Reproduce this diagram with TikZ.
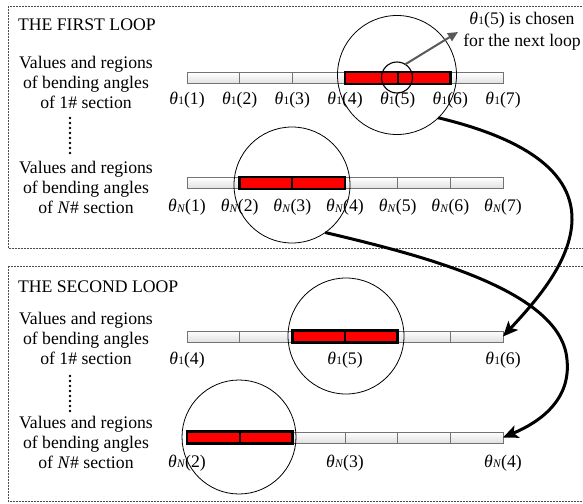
\documentclass[tikz,border=0pt]{standalone}
\usepackage{fontspec}
\setmainfont{Liberation Serif}
\usetikzlibrary{arrows.meta}
\newcommand\thOne[1]{\textit{θ}\kern0.2pt\raisebox{-0.6pt}{\fontsize{11.5}{11.5}\selectfont 1}(#1)}
\newcommand\thEn[1]{\textit{θ}\kern0.2pt\raisebox{-0.6pt}{\fontsize{11.5}{11.5}\selectfont\textit{N}}(#1)}
\begin{document}
\begin{tikzpicture}[x=1pt,y=-1pt,
  every node/.style={font=\fontsize{17.7}{19.8}\selectfont, inner sep=0pt, outer sep=0pt},
  loopbox/.style={draw=black!70, dash pattern=on 2pt off 1pt, line width=0.8pt},
  bar/.style={rectangle, draw=black!55, top color=white, bottom color=black!12, line width=0.8pt,
              minimum width=316pt, minimum height=11pt, anchor=west},
  divider/.style={draw=black!55, line width=0.8pt},
  redbox/.style={rectangle, fill=red, draw=black, line width=2.6pt,
                 minimum width=105.3pt, minimum height=12pt, anchor=west},
  reddiv/.style={draw=black, line width=2pt},
  zoomcirc/.style={circle, draw=black, line width=0.8pt, minimum size=#1, inner sep=0pt},
  bigarrow/.style={draw=black, line width=3pt, -{Stealth[length=15pt, width=13pt, inset=3.5pt]}},
  notearrow/.style={draw=black!65, line width=2pt, -{Triangle[length=10pt, width=9pt]}},
  block/.style={align=center}
]
\useasboundingbox (0,0) rectangle (583,503);
\clip (0,0) rectangle (583,503);

% loop frames
\draw[loopbox] (8,6) rectangle (600,248.5);
\draw[loopbox] (8,266) rectangle (600,501.5);

% titles
\node[anchor=west] (title1) at (18,25) {THE FIRST LOOP};
\node[anchor=west] (title2) at (18,287) {THE SECOND LOOP};

% left text blocks
\node[block] (txtA) at (86,82.5) {Values and regions\\of bending angles\\of 1\# section};
\node[block] (txtB) at (86,187.5) {Values and regions\\of bending angles\\of \textit{N}\# section};
\node[block] (txtC) at (86,338.5) {Values and regions\\of bending angles\\of 1\# section};
\node[block] (txtD) at (86,442.5) {Values and regions\\of bending angles\\of \textit{N}\# section};

% vertical dots
\foreach \y in {118,123,...,153} \fill (70,\y) circle (1.3);
\foreach \y in {376,381,...,411} \fill (70,\y) circle (1.3);

% bars
\node[bar] (barA) at (187,78) {};
\node[bar] (barB) at (187,183) {};
\node[bar] (barC) at (187,336.5) {};
\node[bar] (barD) at (187,437.5) {};
\foreach \b in {barA,barB,barC,barD}{
  \foreach \i in {1,...,5}
    \draw[divider] ([xshift=\i*52.667pt]\b.north west) -- ([xshift=\i*52.667pt]\b.south west);
}

% red selected regions
\node[redbox] (redA) at (344.9,78) {};
\node[redbox] (redB) at (239.7,183) {};
\node[redbox] (redC) at (292.3,336.5) {};
\node[redbox] (redD) at (187,437.5) {};
\foreach \r in {redA,redB,redC,redD}
  \draw[reddiv] (\r.north) -- (\r.south);

% labels, first loop
\foreach \i in {1,...,7}{
  \node (lA\i) at ({187+(\i-1)*52.667},100) {\thOne{\i}};
  \node (lB\i) at ({187+(\i-1)*52.667},207.5) {\thEn{\i}};
}
% labels, second loop
\node (lC4) at (187,360) {\thOne{4}};
\node (lC5) at (345,360) {\thOne{5}};
\node (lC6) at (503,360) {\thOne{6}};
\node (lD2) at (187,463) {\thEn{2}};
\node (lD3) at (345,463) {\thEn{3}};
\node (lD4) at (503,463) {\thEn{4}};

% zoom circles
\node[zoomcirc=119pt] (cA) at (397,75) {};
\node[zoomcirc=116pt] (cB) at (292,185) {};
\node[zoomcirc=116pt] (cC) at (346,336) {};
\node[zoomcirc=114pt] (cD) at (239,437) {};
\node[circle, draw=black, line width=1.1pt, minimum size=31pt] (small) at (397,77.5) {};

% note
\node[align=center] (note) at (522,31) {\thOne{5} is chosen\\[2.5pt]for the next loop};
\coordinate (notetip) at (458,32);
\draw[notearrow] (small.58) -- (notetip);

% big arrows
\draw[bigarrow] (cA.-46) .. controls (510,135) and (573,165) .. (572,220)
                .. controls (571,262) and (535,302) .. (barC.east);
\draw[bigarrow] (cB.-55) .. controls (420,255) and (562,290) .. (567,360)
                .. controls (571,400) and (540,422) .. (barD.east);
\end{tikzpicture}
\end{document}
